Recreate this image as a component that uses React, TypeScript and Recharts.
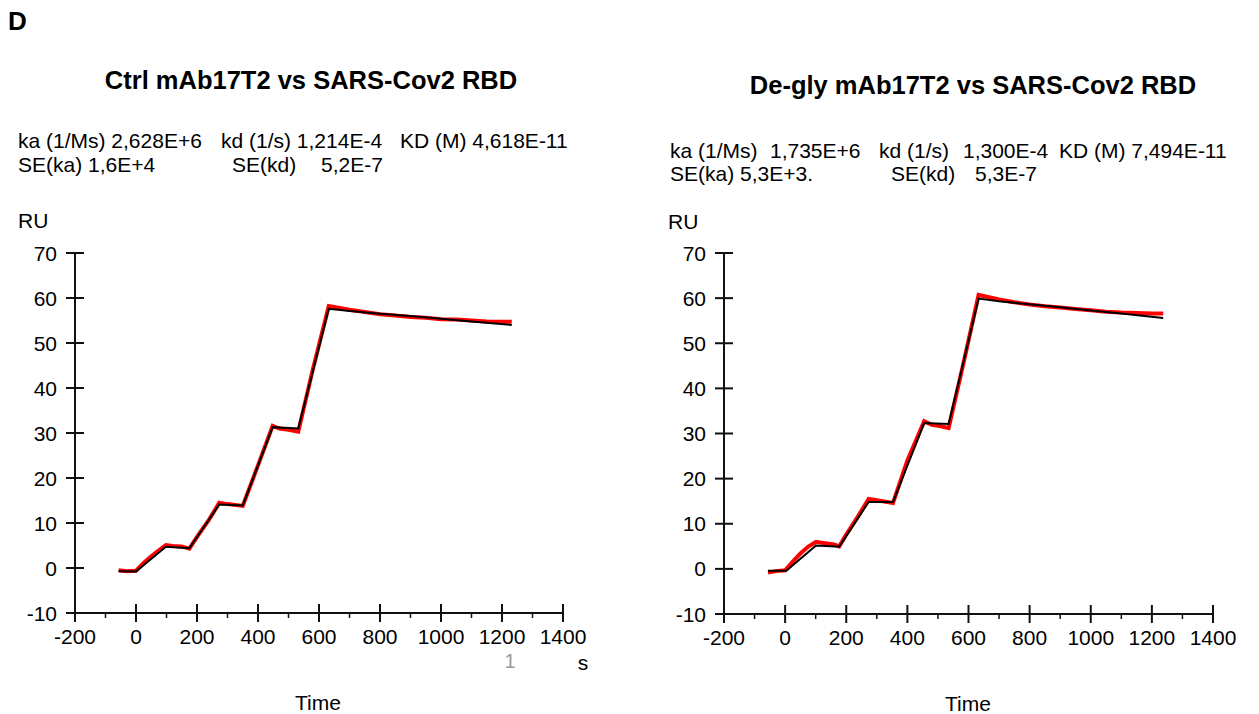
import { LineChart, Line, XAxis, YAxis } from 'recharts'

// time axis (s) and response (RU)
const xTicks = [-200, -100, 0, 100, 200, 300, 400, 500, 600, 700, 800, 900, 1000, 1100, 1200, 1300, 1400]
const yTicks = [-10, 0, 10, 20, 30, 40, 50, 60, 70]

// Ctrl mAb17T2 - fitted curve
const ctrlFitT = [-57, 0, 98, 175, 273, 350, 448, 532, 632, 700, 800, 900, 1000, 1100, 1232]
const ctrlFitRU = [-0.7, -0.8, 4.7, 4.4, 14.1, 13.9, 31.3, 31.0, 57.6, 57.1, 56.5, 56.0, 55.4, 54.8, 54.0]
// Ctrl mAb17T2 - measured sensorgram
const ctrlDataT = [-57, -30, 0, 25, 50, 75, 98, 120, 150, 175, 200, 240, 273, 300, 350, 400, 448, 470, 500, 532, 580, 632, 650, 700, 750, 800, 850, 900, 950, 1000, 1050, 1100, 1150, 1200, 1232]
const ctrlDataRU = [-0.5, -0.7, -0.6, 1.1, 2.6, 3.9, 5.1, 4.9, 4.8, 4.3, 6.9, 10.8, 14.5, 14.2, 13.8, 22.8, 31.6, 31.0, 30.7, 30.3, 44.2, 58.2, 58.0, 57.4, 56.9, 56.4, 56.1, 55.8, 55.6, 55.3, 55.2, 55.0, 54.8, 54.7, 54.7]

// De-gly mAb17T2 - fitted curve
const degFitT = [-56, 4, 101, 177, 273, 353, 455, 535, 633, 700, 791, 900, 991, 1100, 1237]
const degFitRU = [-0.4, -0.4, 5.2, 4.9, 14.8, 14.8, 32.3, 32.1, 59.9, 59.3, 58.7, 58.0, 57.3, 56.6, 55.6]
// De-gly mAb17T2 - measured sensorgram
const degDataT = [-56, -30, 0, 25, 50, 75, 101, 130, 160, 177, 200, 240, 273, 300, 353, 400, 455, 480, 510, 535, 585, 633, 660, 700, 750, 800, 850, 900, 950, 1000, 1050, 1100, 1150, 1200, 1237]
const degDataRU = [-0.8, -0.5, -0.3, 1.6, 3.4, 4.9, 6.0, 5.7, 5.4, 5.0, 7.6, 11.8, 15.5, 15.2, 14.6, 24.0, 32.7, 31.9, 31.6, 31.2, 46.0, 60.7, 60.3, 59.7, 59.1, 58.6, 58.2, 57.9, 57.6, 57.3, 57.0, 56.8, 56.7, 56.6, 56.6]

const FONT = '"Liberation Sans", Arial, sans-serif'

const zip = (t: number[], v: number[]) => t.map((x, i) => ({ t: x, ru: v[i] }))

const XTick = ({ x, y, payload }: any) => {
  const major = payload.value % 200 === 0
  if (!major) return <line x1={x} x2={x} y1={y} y2={y + 5} stroke="#111" strokeWidth={1.5} />
  return (
    <g>
      <line x1={x} x2={x} y1={y - 9} y2={y + 9} stroke="#111" strokeWidth={2} />
      <text x={x} y={y + 31} textAnchor="middle" fontSize={21} fontFamily={FONT} fill="#000">
        {payload.value}
      </text>
    </g>
  )
}

const YTick = ({ x, y, payload }: any) => (
  <g>
    <line x1={x - 9} x2={x + 9} y1={y} y2={y} stroke="#111" strokeWidth={2} />
    <text x={x - 18} y={y + 7.5} textAnchor="end" fontSize={21} fontFamily={FONT} fill="#000">
      {payload.value}
    </text>
  </g>
)

function Sensorgram({ fit, data, margin, width }: any) {
  return (
    <LineChart width={width} height={440} margin={margin}>
      <XAxis
        type="number"
        dataKey="t"
        domain={[-200, 1400]}
        ticks={xTicks}
        interval={0}
        height={margin.xh}
        tickSize={0}
        tickMargin={0}
        tickLine={false}
        tick={<XTick />}
        axisLine={{ stroke: '#111', strokeWidth: 2 }}
        allowDataOverflow
      />
      <YAxis
        type="number"
        dataKey="ru"
        domain={[-10, 70]}
        ticks={yTicks}
        interval={0}
        width={60}
        tickSize={0}
        tickMargin={0}
        tickLine={false}
        tick={<YTick />}
        axisLine={{ stroke: '#111', strokeWidth: 2 }}
        allowDataOverflow
      />
      <Line data={data} dataKey="ru" stroke="#ff0000" strokeWidth={4} dot={false} isAnimationActive={false} />
      <Line data={fit} dataKey="ru" stroke="#000" strokeWidth={2} dot={false} isAnimationActive={false} />
    </LineChart>
  )
}

export default function App() {
  return (
    <div style={{ position: 'absolute', left: 0, top: 0, width: 1259, height: 714, background: '#fff', fontFamily: FONT }}>
      <svg width={1259} height={714} style={{ position: 'absolute', left: 0, top: 0 }} fontFamily={FONT}>
        <text x={8} y={30} fontSize={26} fontWeight="bold">D</text>

        <text x={311} y={89} fontSize={25.5} fontWeight="bold" textAnchor="middle">Ctrl mAb17T2 vs SARS-Cov2 RBD</text>
        <g fontSize={21}>
          <text x={18} y={148}>ka (1/Ms) 2,628E+6</text>
          <text x={221} y={148}>kd (1/s) 1,214E-4</text>
          <text x={400} y={148}>KD (M) 4,618E-11</text>
          <text x={18} y={172}>SE(ka) 1,6E+4</text>
          <text x={232} y={172}>SE(kd)</text>
          <text x={321} y={172}>5,2E-7</text>
          <text x={18} y={228}>RU</text>
          <text x={318} y={710} textAnchor="middle">Time</text>
          <text x={583} y={670} textAnchor="middle">s</text>
        </g>
        <text x={510} y={668} fontSize={20} textAnchor="middle" fill="#9a9a9a">1</text>

        <text x={973} y={94} fontSize={25.5} fontWeight="bold" textAnchor="middle">De-gly mAb17T2 vs SARS-Cov2 RBD</text>
        <g fontSize={21}>
          <text x={670} y={158}>ka (1/Ms)</text>
          <text x={770} y={158}>1,735E+6</text>
          <text x={879} y={158}>kd (1/s)</text>
          <text x={963} y={158}>1,300E-4</text>
          <text x={1059} y={158}>KD (M) 7,494E-11</text>
          <text x={670} y={181}>SE(ka) 5,3E+3.</text>
          <text x={891} y={181}>SE(kd)</text>
          <text x={975} y={181}>5,3E-7</text>
          <text x={668} y={229}>RU</text>
          <text x={968} y={711} textAnchor="middle">Time</text>
        </g>
      </svg>

      <div style={{ position: 'absolute', left: 0, top: 230 }}>
        <Sensorgram
          width={620}
          fit={zip(ctrlFitT, ctrlFitRU)}
          data={zip(ctrlDataT, ctrlDataRU)}
          margin={{ top: 23, right: 57, bottom: 0, left: 15, xh: 57 }}
        />
      </div>
      <div style={{ position: 'absolute', left: 640, top: 230 }}>
        <Sensorgram
          width={619}
          fit={zip(degFitT, degFitRU)}
          data={zip(degDataT, degDataRU)}
          margin={{ top: 23, right: 46, bottom: 0, left: 24, xh: 56 }}
        />
      </div>
    </div>
  )
}
